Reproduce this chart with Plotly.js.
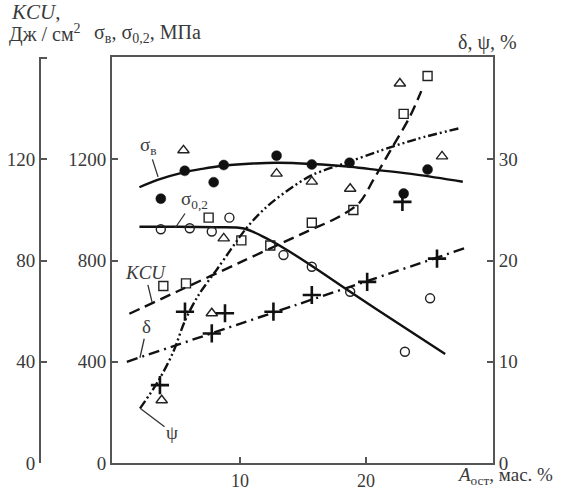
<!DOCTYPE html>
<html>
<head>
<meta charset="utf-8">
<script src="https://cdn.plot.ly/plotly-3.0.1.min.js"></script>
<style>html,body{margin:0;padding:0;background:#fff;}#chart{width:562px;height:490px;}</style>
</head>
<body>
<div id="chart"></div>
<script>
// ---- data (x = A_ост, мас. %) ----
// σв, MPa (filled circles) and its fitted curve
const sigmaB_x = [3.7, 5.6, 7.9, 8.7, 12.9, 15.7, 18.7, 23.0, 24.9];
const sigmaB_y = [1045, 1155, 1110, 1178, 1215, 1180, 1187, 1065, 1160];
const sigmaBFit_x = [2, 3.5, 5.6, 7, 8.7, 11, 13, 15.7, 18.75, 21, 24, 27.7];
const sigmaBFit_y = [1090, 1120, 1150, 1163, 1175, 1184, 1187, 1182, 1171, 1158, 1140, 1112];
// σ0,2, MPa (open circles) and its fitted curve
const sigma02_x = [3.7, 6.0, 7.75, 9.15, 13.45, 15.7, 18.75, 23.1, 25.1];
const sigma02_y = [924, 928, 915, 970, 822, 776, 677, 440, 651];
const sigma02Fit_x = [2, 5, 8, 10.3, 12.1, 13.5, 15.8, 18.75, 22, 26.3];
const sigma02Fit_y = [934, 934, 932, 927, 888, 849, 776, 677, 570, 431];
// KCU, J/cm2 (open squares) and its fitted curve
const kcu_x = [3.9, 5.7, 7.5, 10.1, 12.4, 15.7, 19.0, 23.0, 24.9];
const kcu_y = [70, 71, 97, 88, 86, 95, 100, 138, 153];
const kcuFit_x = [1.2, 5, 10, 15, 18, 19.5, 20.6, 22, 23.5, 24.4];
const kcuFit_y = [59, 67.8, 79.3, 90.8, 97.7, 103, 112, 124, 137, 147];
// δ, % (crosses) and its fitted line
const delta_x = [3.63, 5.62, 7.75, 8.8, 12.65, 15.7, 20.1, 22.9, 25.65];
const delta_y = [7.7, 14.95, 12.8, 14.8, 14.95, 16.6, 17.9, 25.8, 20.2];
const deltaFit_x = [1.0, 14.4, 27.8];
const deltaFit_y = [10.0, 15.6, 21.2];
// ψ, % (open triangles) and its fitted curve
const psi_x = [3.77, 5.5, 7.75, 8.7, 12.9, 15.7, 18.75, 22.7, 26.05];
const psi_y = [6.2, 30.9, 14.8, 22.2, 28.6, 27.8, 27.1, 37.5, 30.3];
const psiFit_x = [2.05, 3.5, 4.7, 5.6, 6.7, 8.2, 10.5, 12.1, 14.2, 15.8, 18.5, 21, 24, 27.5];
const psiFit_y = [5.4, 8.1, 11.0, 14.0, 16.6, 19.2, 23.2, 25.3, 27.3, 28.5, 29.7, 30.8, 32.0, 33.1];

// axis ticks
const xTicks = [10, 20];
const sigmaTicks = [0, 400, 800, 1200];
const kcuTicks = [0, 40, 80, 120, 160];
const kcuTickText = ['0', '40', '80', '120', ''];
const dpTicks = [0, 10, 20, 30];

// ---- styling ----
const FONT = 'Liberation Serif, Times New Roman, serif';
const TXT = '#3a3a3a';
const AX = '#555';
const LINE = '#111';

const curve = (x, y, ax, dash) => ({
  x, y, yaxis: ax, type: 'scatter', mode: 'lines', hoverinfo: 'skip',
  line: {color: LINE, width: 2.4, dash: dash, shape: 'spline', smoothing: 0.9}
});
const pts = (x, y, ax, sym, size, fill, lw) => ({
  x, y, yaxis: ax, type: 'scatter', mode: 'markers',
  marker: {symbol: sym, size: size, color: fill, line: {color: '#222', width: lw}}
});

const traces = [
  curve(sigmaBFit_x, sigmaBFit_y, 'y', 'solid'),
  curve(sigma02Fit_x, sigma02Fit_y, 'y', 'solid'),
  curve(kcuFit_x, kcuFit_y, 'y2', '11px,6px'),
  curve(deltaFit_x, deltaFit_y, 'y3', '11px,5px,2px,5px'),
  curve(psiFit_x, psiFit_y, 'y3', '9px,3px,2px,3px,2px,3px'),
  pts(sigmaB_x, sigmaB_y, 'y', 'circle', 10, '#111', 0.5),
  pts(sigma02_x, sigma02_y, 'y', 'circle-open', 9, '#222', 1.4),
  pts(kcu_x, kcu_y, 'y2', 'square-open', 9, '#222', 1.4),
  pts(psi_x, psi_y, 'y3', 'triangle-up-open', 10, '#222', 1.4),
  pts(delta_x, delta_y, 'y3', 'cross-thin-open', 13, '#111', 2.6)
];

const tickFont = {family: FONT, size: 19, color: TXT};
const yCommon = {
  ticks: 'inside', ticklen: 6, tickwidth: 2, tickcolor: AX,
  showline: true, linecolor: AX, linewidth: 2,
  showgrid: false, zeroline: false, tickfont: tickFont, fixedrange: true
};

// paper coords helpers: plot area in px is [112..493] x [57..463]; margin l=30
const px = v => (v - 30) / 463;
const py = v => (463 - v) / 406;

const ann = (text, x, y, size, yanchor) => ({
  text, xref: 'paper', yref: 'paper', x, y, showarrow: false,
  xanchor: 'left', yanchor: yanchor || 'middle',
  font: {family: FONT, size: size || 20, color: TXT}
});

const lead = (text, x, yref, y, ax, ay, italic) => ({
  text: italic ? '<i>' + text + '</i>' : text, xref: 'x', yref: yref, x, y,
  showarrow: true, arrowhead: 0, arrowwidth: 1.3, arrowcolor: '#333',
  ax, ay, standoff: 0, font: {family: FONT, size: 19, color: TXT}
});

const layout = {
  width: 562, height: 490,
  margin: {l: 30, r: 69, t: 57, b: 27, pad: 0},
  paper_bgcolor: '#fff', plot_bgcolor: '#fff',
  showlegend: false,
  xaxis: {
    domain: [82 / 463, 1], range: [-0.18, 30.1],
    tickvals: xTicks, ticks: 'inside', ticklen: 6, tickwidth: 2, tickcolor: AX,
    showline: true, mirror: true, linecolor: AX, linewidth: 2,
    showgrid: false, zeroline: false, tickfont: {family: FONT, size: 18, color: TXT},
    fixedrange: true
  },
  yaxis: Object.assign({}, yCommon, {range: [0, 1605], tickvals: sigmaTicks}),
  yaxis2: Object.assign({}, yCommon, {
    range: [0, 160.5], tickvals: kcuTicks, ticktext: kcuTickText,
    overlaying: 'y', anchor: 'free', position: 10 / 463, side: 'left'
  }),
  yaxis3: Object.assign({}, yCommon, {
    range: [0, 40.12], tickvals: dpTicks,
    overlaying: 'y', anchor: 'x', side: 'right'
  }),
  annotations: [
    ann('<i>KCU</i>,', px(9), py(12), 21),
    ann('Дж / см<sup>2</sup>', px(7), py(34)),
    ann('σ<sub>в</sub>, σ<sub>0,2</sub>, МПа', px(92), py(34)),
    ann('δ, ψ, %', px(456), py(43)),
    ann('<i>A</i><sub>ост</sub>, мас. %', px(455), py(490), 19, 'bottom'),
    lead('σ<sub>в</sub>', 3.48, 'y', 1131, -10, -31, false),
    lead('σ<sub>0,2</sub>', 4.84, 'y', 929, 19, -28, false),
    lead('KCU', 3.0, 'y2', 63.7, -7, -29, true),
    lead('δ', 2.04, 'y3', 10.4, 7, -31, false),
    lead('ψ', 2.05, 'y3', 5.4, 32, 24, false)
  ]
};

Plotly.newPlot('chart', traces, layout, {staticPlot: true, displayModeBar: false});
</script>
</body>
</html>
